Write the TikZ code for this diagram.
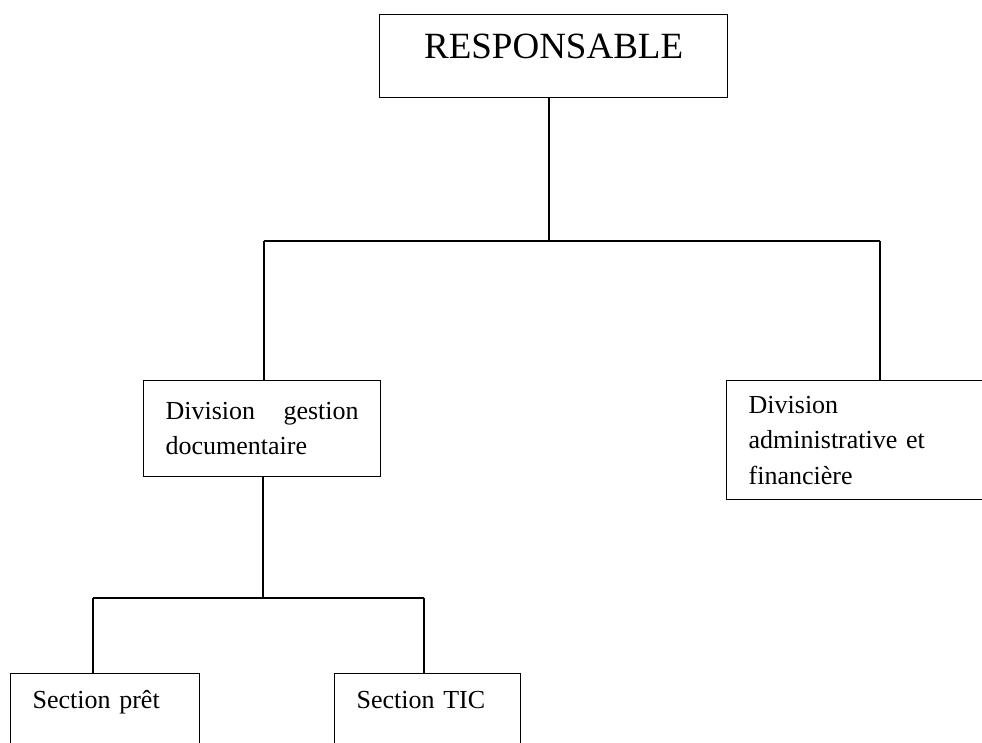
\documentclass[tikz,border=0pt]{standalone}
\usepackage{fontspec}
\setmainfont{Liberation Serif}

\begin{document}
\begin{tikzpicture}[
    x=1pt, y=-1pt,
    box/.style={rectangle, draw, line width=1.3pt, inner xsep=22pt, anchor=north west,
        font=\fontsize{26}{35.5}\selectfont},
    link/.style={line width=1.3pt}
]
    \useasboundingbox (0,0) rectangle (982,742);
    % Responsable
    \node[box, inner xsep=0pt, inner ysep=0pt, minimum width=348pt, minimum height=83pt,
        text height=26pt, text depth=22pt, font=\fontsize{37}{44}\selectfont] (resp) at (379,14) {RESPONSABLE};
    % Divisions
    \node[box, minimum width=237pt, minimum height=96pt, text width=193pt, align=justify] (dgd) at (143,380)
        {Division gestion \mbox{documentaire}};
    \node[box, minimum width=256pt, minimum height=119pt, text width=212pt, align=left] (daf) at (726,380)
        {Division\\administrative et\\financière};
    % Sections
    \node[box, minimum width=189pt, inner ysep=17pt, text height=18pt, text depth=100pt, text width=145pt,
        align=left] (sp) at (10,673) {Section prêt};
    \node[box, minimum width=186pt, inner ysep=17pt, text height=18pt, text depth=100pt, text width=142pt,
        align=left] (stic) at (334,673) {Section TIC};
    % Junctions
    \coordinate (j1) at (549,241);
    \coordinate (jl) at (264,241);
    \coordinate (jr) at (880,241);
    \coordinate (j2) at (263,598);
    \coordinate (jp) at (93,598);
    \coordinate (jt) at (424,598);
    % Lines
    \draw[link] (resp.south -| j1) -- (j1);
    \draw[link] (jl) -- (jr);
    \draw[link] (jl) -- (jl |- dgd.north);
    \draw[link] (jr) -- (jr |- daf.north);
    \draw[link] (dgd.south -| j2) -- (j2);
    \draw[link] (jp) -- (jt);
    \draw[link] (jp) -- (jp |- sp.north);
    \draw[link] (jt) -- (jt |- stic.north);
\end{tikzpicture}
\end{document}
